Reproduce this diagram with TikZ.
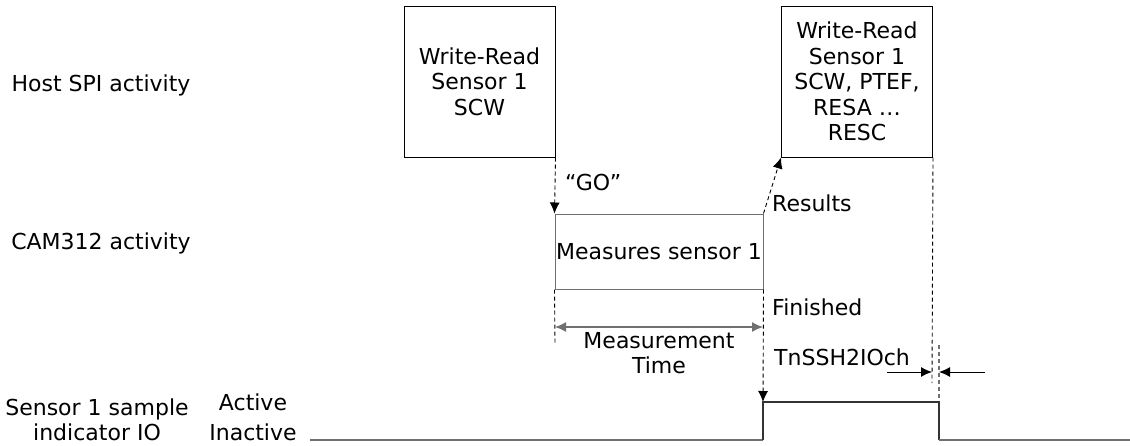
\documentclass[tikz,border=0pt]{standalone}
\usepackage{fontspec}
\setmainfont{DejaVu Sans}
\usetikzlibrary{arrows.meta}
\definecolor{lg}{HTML}{707070}
\tikzset{
  lbl/.style={font=\fontsize{22}{25.5}\selectfont, inner sep=0pt, align=center},
  blk/.style={draw=black, line width=1pt, lbl, minimum width=151pt, minimum height=151pt},
  dsh/.style={dash pattern=on 4pt off 3pt, line width=0.9pt},
  tip/.style={-{Latex[length=11pt,width=10pt]}},
  sig/.style={line width=1.3pt}
}
\begin{document}
\begin{tikzpicture}[x=1pt,y=-1pt]
\useasboundingbox (0,0) rectangle (1130,445);
% row labels
\node[lbl] (hl) at (101,85) {Host SPI activity};
\node[lbl] (cl) at (101,243) {CAM312 activity};
\node[lbl] (sl) at (97,420) {Sensor 1 sample\\indicator IO};
\node[lbl] (act) at (253,402) {Active};
\node[lbl, font=\fontsize{22}{22}\selectfont, anchor=base] (inact) at (253,440) {Inactive};
% boxes
\node[blk] (b1) at (479.5,81.5) {Write-Read\\Sensor 1\\SCW};
\node[blk] (b2) at (857,81.5) {Write-Read\\Sensor 1\\SCW, PTEF,\\RESA …\\RESC};
\node[draw=lg, line width=1pt, lbl, minimum width=208pt, minimum height=75pt] (m) at (659,251.5) {Measures sensor 1};
% coordinates
\coordinate (mlow) at (555,345);
\coordinate (s0) at (310,440);
\coordinate (s1) at (763,440);
\coordinate (s2) at (763,402);
\coordinate (s3) at (939,402);
\coordinate (s4) at (939,440);
\coordinate (s5) at (1130,440);
\coordinate (d1) at (932,383);
\coordinate (d2) at (939,345);
\coordinate (mt1) at (555,327);
\coordinate (mt2) at (763,327);
\coordinate (ta) at (887,372);
\coordinate (tb) at (932,372);
\coordinate (tc) at (985,372);
\coordinate (td) at (939,372);
% connectors
\draw[dsh, tip] (b1.south east) -- (m.north west);
\draw[dsh] (m.south west) -- (mlow);
\draw[dsh, tip] (m.north east) -- (b2.south west);
\draw[dsh, tip] (m.south east) -- (s2);
\draw[dsh] (b2.south east) -- (d1);
\draw[dsh, draw=lg, line width=1.2pt] (d2) -- (s3);
% signal
\draw[sig, draw=lg] (s0) -- (s1);
\draw[sig, draw=black!80] (s1) -- (s2) -- (s3) -- (s4);
\draw[sig, draw=lg] (s4) -- (s5);
% measurement time
\draw[line width=1.3pt, draw=lg, {Latex[length=11pt,width=10pt]}-{Latex[length=11pt,width=10pt]}] (mt1) -- (mt2);
\node[lbl] (mtl) at (659,353) {Measurement\\Time};
% TnSSH2IOch
\draw[line width=1pt, tip] (ta) -- (tb);
\draw[line width=1pt, tip] (tc) -- (td);
\node[lbl, anchor=west] (tn) at (774,357) {TnSSH2IOch};
% labels
\node[lbl, anchor=west] (go) at (565,182) {“GO”};
\node[lbl, anchor=west] (res) at (772,203) {Results};
\node[lbl, anchor=west] (fin) at (772,307) {Finished};
\end{tikzpicture}
\end{document}
